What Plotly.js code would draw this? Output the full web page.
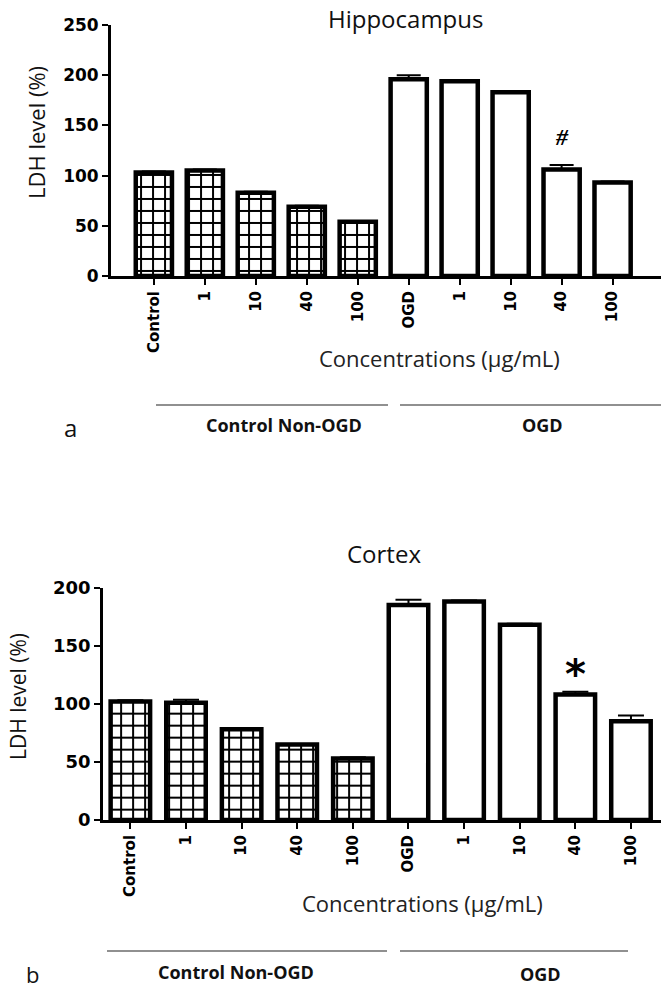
<!DOCTYPE html>
<html>
<head>
<meta charset="utf-8">
<script src="https://cdn.plot.ly/plotly-3.0.1.min.js"></script>
<style>
  html, body { margin: 0; padding: 0; background: #fff; }
  #plotArea { width: 661px; height: 991px; }
</style>
</head>
<body>
<div id="plotArea"></div>
<script>
// group labels along the x axis (same for both panels)
var groups = ["Control", "1", "10", "40", "100", "OGD", "1", "10", "40", "100"];
var hatched = [true, true, true, true, true, false, false, false, false, false];

// panel a - hippocampus, LDH level (%) mean and SEM
var hippoMean = [103, 105, 83, 69, 54, 196, 194, 183, 106, 93];
var hippoSem = [1, 1, 1, 1, 0.5, 4, 1, 1, 4.5, 1];

// panel b - cortex
var cortexMean = [102, 101, 78, 65, 53, 185, 188, 168, 108, 85];
var cortexSem = [1, 2.5, 1, 0.5, 1, 4.5, 1, 1, 2.3, 5];

// significance marks
var hippoMark = {idx: 8, y: 138, text: "#"};
var cortexMark = {idx: 8, y: 126, text: "*"};

var pos = groups.map(function (g, i) { return i; });
var zeros = groups.map(function () { return 0; });
var shapes = hatched.map(function (h) { return h ? "+" : ""; });

function barTrace(means, sems, xa, ya, capw) {
  return {
    type: "bar",
    x: pos,
    y: means,
    xaxis: xa,
    yaxis: ya,
    width: 0.71,
    marker: {
      color: "white",
      line: {color: "black", width: 4.5},
      pattern: {shape: shapes, fgcolor: "black", bgcolor: "white", size: 12, solidity: 0.3}
    },
    error_y: {
      type: "data", symmetric: false, array: sems, arrayminus: zeros,
      color: "black", thickness: 2, width: capw
    },
    hoverinfo: "skip"
  };
}

var data = [
  barTrace(hippoMean, hippoSem, "x", "y", 12),
  barTrace(cortexMean, cortexSem, "x2", "y2", 13)
];

var tickFontX = {family: "DejaVu Sans", size: 15, color: "black", weight: "bold"};
var textFont = "Open Sans";

function xAxis(domain, range, anchor) {
  return {
    domain: domain, range: range, anchor: anchor,
    tickmode: "array", tickvals: pos, ticktext: groups,
    tickangle: -90, tickfont: tickFontX,
    ticks: "outside", ticklen: 6, tickwidth: 2, tickcolor: "black",
    showline: true, linecolor: "black", linewidth: 3,
    showgrid: false, zeroline: false, fixedrange: true
  };
}
function yAxis(domain, range, dtick, anchor, size) {
  return {
    domain: domain, range: range, anchor: anchor, dtick: dtick,
    tickfont: {family: "DejaVu Sans", size: size, color: "black", weight: "bold"},
    ticks: "outside", ticklen: 6, tickwidth: 2, tickcolor: "black",
    showline: true, linecolor: "black", linewidth: 3,
    showgrid: false, zeroline: false, fixedrange: true
  };
}

var layout = {
  width: 661, height: 991,
  margin: {l: 0, r: 0, t: 0, b: 0},
  paper_bgcolor: "white", plot_bgcolor: "white",
  showlegend: false,
  xaxis: xAxis([0.168, 1], [-0.84, 9.95], "y"),
  yaxis: yAxis([0.7215, 0.9748], [0, 250], 50, "x", 17),
  xaxis2: xAxis([0.156, 1], [-0.49, 9.54], "y2"),
  yaxis2: yAxis([0.1726, 0.407], [0, 200], 50, "x2", 18),
  annotations: [
    {text: "Hippocampus", xref: "paper", yref: "paper", x: 0.613, y: 1 - 18 / 991, showarrow: false,
     xanchor: "center", yanchor: "middle", font: {family: textFont, size: 24, color: "#111"}},
    {text: "LDH level (%)", xref: "paper", yref: "paper", x: 36 / 661, y: 1 - 133 / 991, showarrow: false,
     textangle: -90, xanchor: "center", yanchor: "middle", font: {family: textFont, size: 22, color: "#111"}},
    {text: "Concentrations (µg/mL)", xref: "paper", yref: "paper", x: 440 / 661, y: 1 - 358 / 991, showarrow: false,
     xanchor: "center", yanchor: "middle", font: {family: textFont, size: 22, color: "#222"}},
    {text: "<b>Control Non-OGD</b>", xref: "paper", yref: "paper", x: 284 / 661, y: 1 - 425 / 991, showarrow: false,
     xanchor: "center", yanchor: "middle", font: {family: textFont, size: 18, color: "#111"}},
    {text: "<b>OGD</b>", xref: "paper", yref: "paper", x: 542 / 661, y: 1 - 425 / 991, showarrow: false,
     xanchor: "center", yanchor: "middle", font: {family: textFont, size: 18, color: "#111"}},
    {text: "a", xref: "paper", yref: "paper", x: 70 / 661, y: 1 - 427 / 991, showarrow: false,
     xanchor: "center", yanchor: "middle", font: {family: textFont, size: 24, color: "#111"}},
    {text: "<b><i>" + hippoMark.text + "</i></b>", xref: "x", yref: "y", x: hippoMark.idx, y: hippoMark.y, showarrow: false,
     xanchor: "center", yanchor: "middle", font: {family: "Liberation Serif", size: 24, color: "black"}},

    {text: "Cortex", xref: "paper", yref: "paper", x: 384 / 661, y: 1 - 553 / 991, showarrow: false,
     xanchor: "center", yanchor: "middle", font: {family: textFont, size: 24, color: "#111"}},
    {text: "LDH level (%)", xref: "paper", yref: "paper", x: 18 / 661, y: 1 - 697 / 991, showarrow: false,
     textangle: -90, xanchor: "center", yanchor: "middle", font: {family: textFont, size: 21, color: "#111"}},
    {text: "Concentrations (µg/mL)", xref: "paper", yref: "paper", x: 422 / 661, y: 1 - 903 / 991, showarrow: false,
     xanchor: "center", yanchor: "middle", font: {family: textFont, size: 22, color: "#222"}},
    {text: "<b>Control Non-OGD</b>", xref: "paper", yref: "paper", x: 236 / 661, y: 1 - 972 / 991, showarrow: false,
     xanchor: "center", yanchor: "middle", font: {family: textFont, size: 18, color: "#111"}},
    {text: "<b>OGD</b>", xref: "paper", yref: "paper", x: 540 / 661, y: 1 - 974 / 991, showarrow: false,
     xanchor: "center", yanchor: "middle", font: {family: textFont, size: 18, color: "#111"}},
    {text: "b", xref: "paper", yref: "paper", x: 32 / 661, y: 1 - 974 / 991, showarrow: false,
     xanchor: "center", yanchor: "middle", font: {family: textFont, size: 22, color: "#111"}},
    {text: "<b>" + cortexMark.text + "</b>", xref: "x2", yref: "y2", x: cortexMark.idx, y: cortexMark.y, showarrow: false,
     xanchor: "center", yanchor: "middle", font: {family: "DejaVu Sans", size: 40, color: "black"}}
  ],
  shapes: [
    {type: "line", xref: "paper", yref: "paper", x0: 156 / 661, x1: 388 / 661, y0: 1 - 405 / 991, y1: 1 - 405 / 991,
     line: {color: "#222", width: 1.2}},
    {type: "line", xref: "paper", yref: "paper", x0: 400 / 661, x1: 661 / 661, y0: 1 - 405 / 991, y1: 1 - 405 / 991,
     line: {color: "#222", width: 1.2}},
    {type: "line", xref: "paper", yref: "paper", x0: 107 / 661, x1: 387 / 661, y0: 1 - 951 / 991, y1: 1 - 951 / 991,
     line: {color: "#222", width: 1.2}},
    {type: "line", xref: "paper", yref: "paper", x0: 400 / 661, x1: 628 / 661, y0: 1 - 951 / 991, y1: 1 - 951 / 991,
     line: {color: "#222", width: 1.2}}
  ]
};

Plotly.newPlot("plotArea", data, layout, {displayModeBar: false, staticPlot: true});
</script>
</body>
</html>
